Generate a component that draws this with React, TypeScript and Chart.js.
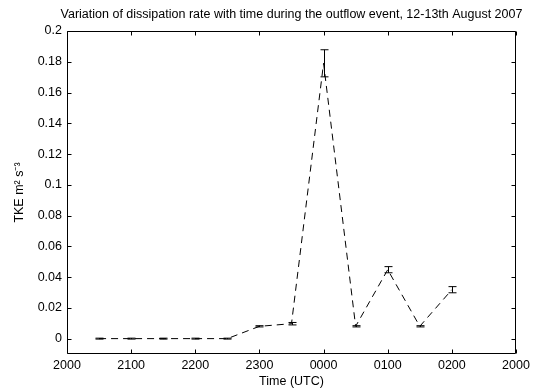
import React, { useEffect, useRef } from 'react';
import { Chart, registerables } from 'chart.js';

Chart.register(...registerables);

const TITLE = 'Variation of dissipation rate with time during the outflow event, 12-13th August 2007';
const X_TITLE = 'Time (UTC)';
const Y_TITLE = 'TKE m\u00B2 s\u207B\u00B3';
const X_TICK_LABELS = ['2000', '2100', '2200', '2300', '0000', '0100', '0200', '2000'];
const X_TICK_VALUES = [0, 1, 2, 3, 4, 5, 6, 7]; // hours after 2000 UTC
const Y_TICK_VALUES = [0, 0.02, 0.04, 0.06, 0.08, 0.1, 0.12, 0.14, 0.16, 0.18, 0.2];
const TIMES = [0.5, 1, 1.5, 2, 2.5, 3, 3.5, 4, 4.5, 5, 5.5, 6];
const TKE = [0, 0, 0, 0, 0, 0.008, 0.0097, 0.179, 0.008, 0.0448, 0.008, 0.0318];
const ERR = [0.0003, 0.0003, 0.0003, 0.0003, 0.0003, 0.0004, 0.0008, 0.0088, 0.0004, 0.002, 0.0004, 0.002];

const FONT = '"Liberation Sans", Arial, Helvetica, sans-serif';

const framePlugin = {
  id: 'matlabFrame',
  afterDatasetsDraw(chart: any) {
    const { ctx, chartArea: a, scales } = chart;
    const x = scales.x;
    const y = scales.y;
    ctx.save();
    ctx.strokeStyle = '#000';
    ctx.lineWidth = 1;
    ctx.setLineDash([]);
    // error bars
    TIMES.forEach((t, i) => {
      const px = Math.round(x.getPixelForValue(t)) + 0.5;
      const top = y.getPixelForValue(TKE[i] + ERR[i]);
      const bot = y.getPixelForValue(TKE[i] - ERR[i]);
      ctx.beginPath();
      ctx.moveTo(px, top);
      ctx.lineTo(px, bot);
      ctx.moveTo(px - 4, top);
      ctx.lineTo(px + 4, top);
      ctx.moveTo(px - 4, bot);
      ctx.lineTo(px + 4, bot);
      ctx.stroke();
    });
    // box
    const L = Math.round(a.left) + 0.5;
    const R = Math.round(a.right) - 0.5;
    const T = Math.round(a.top) + 0.5;
    const B = Math.round(a.bottom) - 0.5;
    ctx.beginPath();
    ctx.rect(L, T, R - L, B - T);
    ctx.stroke();
    // inward ticks
    const tl = 4;
    ctx.beginPath();
    X_TICK_VALUES.forEach((v) => {
      const px = Math.round(x.getPixelForValue(v)) + 0.5;
      ctx.moveTo(px, B);
      ctx.lineTo(px, B - tl);
      ctx.moveTo(px, T);
      ctx.lineTo(px, T + tl);
    });
    Y_TICK_VALUES.forEach((v) => {
      const py = Math.round(y.getPixelForValue(v)) + 0.5;
      ctx.moveTo(L, py);
      ctx.lineTo(L + tl, py);
      ctx.moveTo(R, py);
      ctx.lineTo(R - tl, py);
    });
    ctx.stroke();
    // title
    ctx.fillStyle = '#000';
    ctx.font = '12.5px ' + FONT;
    ctx.textAlign = 'center';
    ctx.textBaseline = 'middle';
    ctx.fillText(TITLE, (a.left + a.right) / 2, 15);
    ctx.restore();
  },
};

export default function App() {
  const canvasRef = useRef<HTMLCanvasElement | null>(null);

  useEffect(() => {
    if (!canvasRef.current) return;
    const chart = new Chart(canvasRef.current, {
      type: 'line',
      data: {
        datasets: [
          {
            data: TIMES.map((t, i) => ({ x: t, y: TKE[i] })),
            borderColor: '#000',
            borderWidth: 1,
            borderDash: [7, 5],
            pointRadius: 0,
            fill: false,
            tension: 0,
          },
        ],
      },
      options: {
        animation: false,
        responsive: true,
        maintainAspectRatio: false,
        layout: { padding: { top: 31, right: 27, left: 0, bottom: 0 } },
        plugins: {
          legend: { display: false },
          tooltip: { enabled: false },
          title: { display: false },
        },
        scales: {
          x: {
            type: 'linear',
            min: 0,
            max: 7,
            grid: { display: false, drawTicks: false },
            border: { display: false },
            afterBuildTicks: (scale: any) => {
              scale.ticks = X_TICK_VALUES.map((v) => ({ value: v }));
            },
            afterFit: (scale: any) => {
              scale.height = 35;
            },
            ticks: {
              color: '#000',
              font: { family: FONT, size: 12.5 },
              padding: 4,
              maxRotation: 0,
              autoSkip: false,
              callback: (v: any) => X_TICK_LABELS[Math.round(Number(v))],
            },
            title: {
              display: true,
              text: X_TITLE,
              color: '#000',
              font: { family: FONT, size: 12.5 },
              padding: { top: 0, bottom: 0 },
            },
          },
          y: {
            type: 'linear',
            min: -0.01,
            max: 0.2,
            grid: { display: false, drawTicks: false },
            border: { display: false },
            afterBuildTicks: (scale: any) => {
              scale.ticks = Y_TICK_VALUES.map((v) => ({ value: v }));
            },
            afterFit: (scale: any) => {
              scale.width = 67;
            },
            ticks: {
              color: '#000',
              font: { family: FONT, size: 12.5 },
              padding: 5,
              autoSkip: false,
              callback: (v: any) => String(parseFloat(Number(v).toFixed(2))),
            },
            title: {
              display: true,
              text: Y_TITLE,
              color: '#000',
              font: { family: FONT, size: 12.5 },
              padding: { top: 12, bottom: 0 },
            },
          },
        },
      },
      plugins: [framePlugin],
    });
    return () => chart.destroy();
  }, []);

  return (
    <div style={{ position: 'fixed', left: 0, top: 0, width: 543, height: 389, background: '#fff' }}>
      <canvas ref={canvasRef} />
    </div>
  );
}
